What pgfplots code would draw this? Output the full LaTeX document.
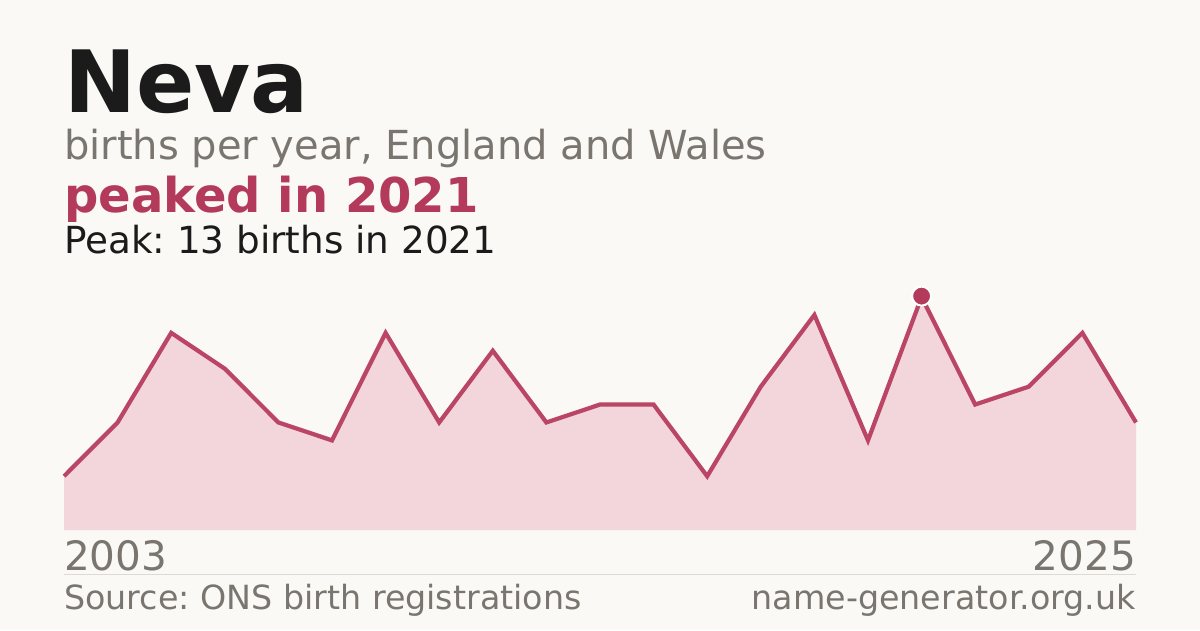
\documentclass[border=0pt]{standalone}
\usepackage{pgfplots}
\pgfplotsset{compat=1.18}
\usepackage{fontspec}
\setmainfont{DejaVu Sans}
\definecolor{bg}{HTML}{FAF9F5}
\definecolor{crim}{HTML}{B33A5A}
\definecolor{linec}{HTML}{BA4565}
\definecolor{pinkf}{HTML}{F2D6DB}
\definecolor{greyt}{HTML}{7A756E}
\definecolor{dark}{HTML}{1B1B1B}
\definecolor{sep}{HTML}{DDDAD4}
\begin{document}
\frenchspacing
\begin{tikzpicture}[x=1pt,y=1pt]
\fill[bg] (0,0) rectangle (1200,630);
\useasboundingbox (0,0) rectangle (1200,630);
\node[anchor=base west,inner sep=0,text=dark] at (64,517) {\fontsize{86}{90}\selectfont\bfseries Neva};
\node[anchor=base west,inner sep=0,text=greyt] at (64,470) {\fontsize{40}{44}\selectfont births per year, England and Wales};
\node[anchor=base west,inner sep=0,text=crim] at (64,417) {\fontsize{48}{50}\selectfont\bfseries peaked in 2021};
\node[anchor=base west,inner sep=0,text=dark] at (64,376) {\fontsize{37.3}{40}\selectfont Peak: 13 births in 2021};
\begin{axis}[
  at={(64pt,100pt)}, anchor=south west,
  width=1072pt, height=233pt, scale only axis,
  xmin=0, xmax=20, ymin=0, ymax=13,
  hide axis, clip=false]
\addplot[fill=pinkf, draw=none] coordinates {
(0,3) (1,6) (2,11) (3,9) (4,6) (5,5) (6,11) (7,6) (8,10) (9,6) (10,7)
(11,7) (12,3) (13,8) (14,12) (15,5) (16,13) (17,7) (18,8) (19,11) (20,6)
} \closedcycle;
\addplot[draw=linec, line width=4.2pt, line join=miter] coordinates {
(0,3) (1,6) (2,11) (3,9) (4,6) (5,5) (6,11) (7,6) (8,10) (9,6) (10,7)
(11,7) (12,3) (13,8) (14,12) (15,5) (16,13) (17,7) (18,8) (19,11) (20,6)
};
\addplot[only marks, mark=*, mark size=9.5pt, mark options={fill=crim, draw=white, line width=2pt}] coordinates {(16,13.05)};
\end{axis}
\node[anchor=base west,inner sep=0,text=greyt] at (64,60) {\fontsize{40.5}{44}\selectfont 2003};
\node[anchor=base east,inner sep=0,text=greyt] at (1136,60) {\fontsize{40.5}{44}\selectfont 2025};
\draw[sep, line width=1pt] (64,56) -- (1136,56);
\node[anchor=base west,inner sep=0,text=greyt] at (64,21) {\fontsize{33.3}{36}\selectfont Source: ONS birth registrations};
\node[anchor=base east,inner sep=0,text=greyt] at (1136,21) {\fontsize{33.3}{36}\selectfont name-generator.org.uk};
\end{tikzpicture}
\end{document}
